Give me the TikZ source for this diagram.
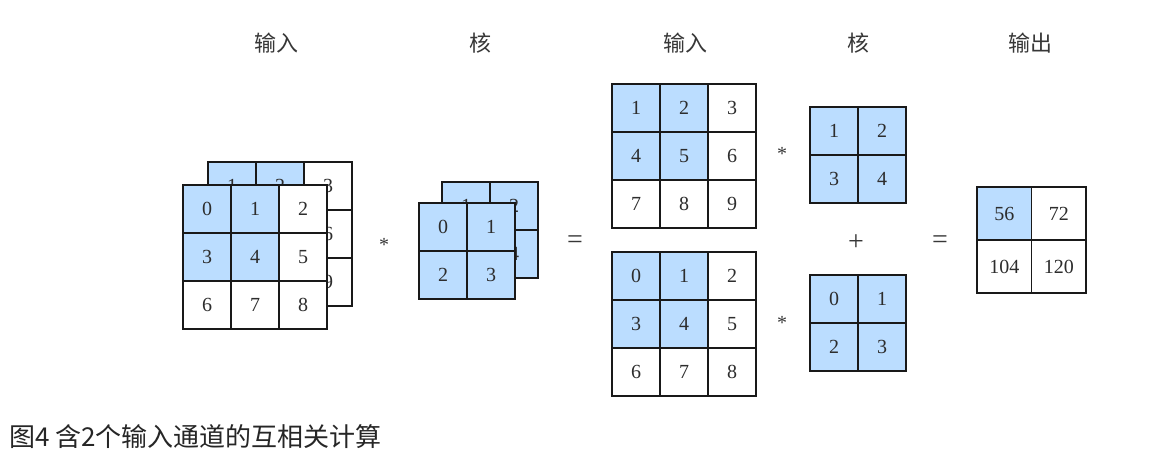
\documentclass[tikz,border=0pt]{standalone}
\usepackage{fontspec}
\setmainfont{Liberation Serif}
\newfontfamily\cjk{Noto Sans CJK SC}
\definecolor{cellblue}{RGB}{187,221,255}
\definecolor{txt}{RGB}{45,45,45}
\definecolor{lbl}{RGB}{55,55,55}
\newcommand\mkgrid[5]{% name, x0, y0, cols, list v/f
  \foreach \v/\f [count=\i from 0] in {#5} {%
    \pgfmathtruncatemacro\rr{floor(\i/#4)}%
    \pgfmathtruncatemacro\cc{mod(\i,#4)}%
    \node[cell, fill=\f] (#1-\rr-\cc) at ({#2+(\cc+0.5)*48},{#3+(\rr+0.5)*48}) {\v};
  }}
\begin{document}
\begin{tikzpicture}[x=1pt,y=-1pt,
  cell/.style={draw=black!90, line width=1.8pt, minimum size=48pt, inner sep=0pt,
    font=\fontsize{20}{20}\selectfont, text=txt},
  outcell/.style={cell, minimum width=54.5pt, minimum height=53pt},
  op/.style={font=\fontsize{28}{28}\selectfont, text=lbl, inner sep=0pt},
  star/.style={font=\fontsize{20}{20}\selectfont, text=lbl, inner sep=0pt},
  lab/.style={font=\cjk\fontsize{22}{22}\selectfont, text=lbl, inner sep=0pt},
  captext/.style={font=\cjk\fontsize{26}{26}\selectfont, text=black!85, inner sep=0pt, anchor=west}]
\useasboundingbox (0,0) rectangle (1159,469);
% labels
\node[lab] (l1) at (276,43) {输入};
\node[lab] (l2) at (480,43) {核};
\node[lab] (l3) at (685,43) {输入};
\node[lab] (l4) at (858,43) {核};
\node[lab] (l5) at (1030,43) {输出};
% left stacked input
\mkgrid{bi}{208}{162}{3}{1/cellblue,2/cellblue,3/white,4/cellblue,5/cellblue,6/white,7/white,8/white,9/white}
\mkgrid{fi}{183}{185}{3}{0/cellblue,1/cellblue,2/white,3/cellblue,4/cellblue,5/white,6/white,7/white,8/white}
% stacked kernel
\mkgrid{bk}{442}{182}{2}{1/cellblue,2/cellblue,3/cellblue,4/cellblue}
\mkgrid{fk}{419}{203}{2}{0/cellblue,1/cellblue,2/cellblue,3/cellblue}
% middle inputs
\mkgrid{ti}{612}{84}{3}{1/cellblue,2/cellblue,3/white,4/cellblue,5/cellblue,6/white,7/white,8/white,9/white}
\mkgrid{di}{612}{252}{3}{0/cellblue,1/cellblue,2/white,3/cellblue,4/cellblue,5/white,6/white,7/white,8/white}
% middle kernels
\mkgrid{tk}{810}{107}{2}{1/cellblue,2/cellblue,3/cellblue,4/cellblue}
\mkgrid{dk}{810}{275}{2}{0/cellblue,1/cellblue,2/cellblue,3/cellblue}
% output
\node[outcell, fill=cellblue] (o-0-0) at (1004.25,213.5) {56};
\node[outcell, fill=white] (o-0-1) at (1058.75,213.5) {72};
\node[outcell, fill=white] (o-1-0) at (1004.25,266.5) {104};
\node[outcell, fill=white] (o-1-1) at (1058.75,266.5) {120};
% operators
\node[star] (s1) at (384,245) {*};
\node[op] (e1) at (575,242) {=};
\node[star] (s2) at (782,154) {*};
\node[star] (s3) at (782,323) {*};
\node[op] (p1) at (856,243) {+};
\node[op] (e2) at (940,242) {=};
% caption
\node[captext] (c) at (9,437) {图4 含2个输入通道的互相关计算};
\end{tikzpicture}
\end{document}
